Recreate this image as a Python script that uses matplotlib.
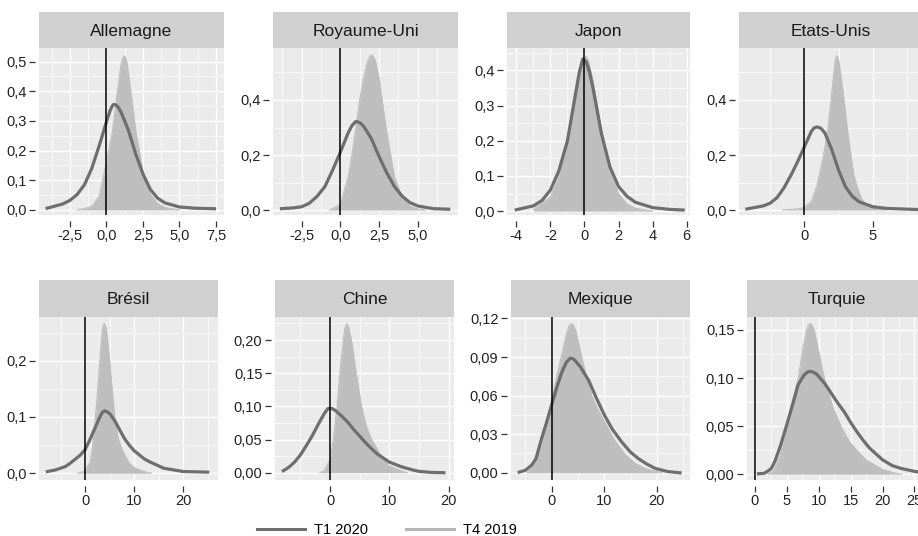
"""
Density of forecasts per country, T1 2020 vs T4 2019 (ggplot-like facets).
"""
import matplotlib
matplotlib.use("Agg")
import matplotlib.pyplot as plt
from matplotlib.lines import Line2D
import numpy as np

plt.rcParams["font.family"] = ["Liberation Sans", "DejaVu Sans"]

W, H = 918, 536

COUNTRIES = ["Allemagne", "Royaume-Uni", "Japon", "Etats-Unis",
             "Brésil", "Chine", "Mexique", "Turquie"]
SERIES = ["T1 2020", "T4 2019"]

# ---------------------------------------------------------------------
# Density curves
# ---------------------------------------------------------------------
ALLEMAGNE_T1_X = [-4.05, -3.0, -2.5, -2.0, -1.5, -1.0, -0.5, 0.0, 0.25, 0.4, 0.5, 0.65, 0.8,
                  1.0, 1.5, 2.0, 2.5, 3.0, 3.5, 4.0, 5.0, 6.0, 7.4]
ALLEMAGNE_T1_Y = [0.006, 0.02, 0.032, 0.052, 0.085, 0.14, 0.215, 0.296, 0.335, 0.35, 0.356, 0.354,
                  0.347, 0.33, 0.27, 0.19, 0.122, 0.07, 0.04, 0.024, 0.01, 0.006, 0.004]
ALLEMAGNE_T4_X = [-2.0, -1.5, -1.0, -0.5, 0.0, 0.4, 0.7, 1.0, 1.1, 1.2, 1.3, 1.4, 1.7,
                  2.0, 2.5, 3.0, 3.5, 4.0, 5.0]
ALLEMAGNE_T4_Y = [0.0, 0.005, 0.012, 0.045, 0.16, 0.26, 0.38, 0.49, 0.51, 0.52, 0.515, 0.50, 0.39,
                  0.27, 0.13, 0.055, 0.022, 0.008, 0.0]

ROYAUME_UNI_T1_X = [-3.8, -3.0, -2.5, -2.0, -1.5, -1.0, -0.5, 0.0, 0.5, 0.75, 1.0, 1.25,
                    1.5, 2.0, 2.5, 3.0, 3.5, 4.0, 4.5, 5.0, 6.0, 7.0]
ROYAUME_UNI_T1_Y = [0.005, 0.008, 0.012, 0.025, 0.05, 0.085, 0.145, 0.21, 0.28, 0.307, 0.322, 0.318,
                    0.305, 0.26, 0.195, 0.135, 0.085, 0.05, 0.027, 0.015, 0.005, 0.003]
ROYAUME_UNI_T4_X = [-0.7, 0.0, 0.5, 0.75, 1.0, 1.25, 1.5, 1.75, 1.9, 2.0, 2.1, 2.25, 2.5,
                    2.75, 3.0, 3.5, 4.0, 4.5, 5.0, 5.5]
ROYAUME_UNI_T4_Y = [0.0, 0.02, 0.12, 0.2, 0.3, 0.4, 0.48, 0.54, 0.558, 0.564, 0.56, 0.545, 0.48,
                    0.38, 0.28, 0.12, 0.045, 0.015, 0.004, 0.0]

JAPON_T1_X = [-4.0, -3.0, -2.5, -2.0, -1.5, -1.0, -0.5, -0.3, -0.1, 0.1, 0.3, 0.5,
              1.0, 1.5, 2.0, 2.5, 3.0, 4.0, 5.0, 5.8]
JAPON_T1_Y = [0.004, 0.015, 0.03, 0.06, 0.115, 0.2, 0.34, 0.395, 0.432, 0.425, 0.395, 0.35,
              0.22, 0.125, 0.07, 0.042, 0.025, 0.01, 0.005, 0.003]
JAPON_T4_X = [-3.0, -2.0, -1.5, -1.0, -0.5, -0.2, 0.0, 0.1, 0.25, 0.5, 1.0, 1.5, 2.0, 2.5, 3.0, 4.0]
JAPON_T4_Y = [0.005, 0.04, 0.1, 0.2, 0.34, 0.41, 0.435, 0.44, 0.425, 0.37, 0.23, 0.11, 0.05, 0.02,
              0.008, 0.0]

ETATS_UNIS_T1_X = [-4.2, -3.0, -2.5, -2.0, -1.5, -1.0, -0.5, 0.0, 0.5, 0.7, 0.9, 1.1, 1.25,
                   1.5, 2.0, 2.5, 3.0, 3.5, 4.0, 5.0, 6.0, 8.2]
ETATS_UNIS_T1_Y = [0.004, 0.015, 0.025, 0.045, 0.08, 0.125, 0.175, 0.23, 0.285, 0.298, 0.302, 0.3,
                   0.295, 0.28, 0.22, 0.145, 0.085, 0.05, 0.03, 0.012, 0.006, 0.002]
ETATS_UNIS_T4_X = [-1.6, -0.5, 0.0, 0.5, 0.9, 1.15, 1.4, 1.7, 1.95, 2.15, 2.25, 2.35, 2.45,
                   2.55, 2.75, 2.9, 3.15, 3.4, 3.6, 3.85, 4.2, 4.6, 5.0, 6.0]
ETATS_UNIS_T4_Y = [0.0, 0.004, 0.01, 0.03, 0.085, 0.14, 0.2, 0.29, 0.4, 0.5, 0.545, 0.562, 0.553,
                   0.53, 0.46, 0.4, 0.29, 0.2, 0.13, 0.085, 0.04, 0.015, 0.006, 0.0]

BRESIL_T1_X = [-7.7, -6.0, -4.0, -3.0, -2.0, -1.0, 0.0, 1.0, 2.0, 3.0, 3.5, 4.0, 4.5,
               5.0, 6.0, 7.0, 8.0, 9.0, 10.0, 12.0, 13.0, 16.0, 20.0, 25.0]
BRESIL_T1_Y = [0.003, 0.006, 0.012, 0.018, 0.025, 0.032, 0.042, 0.06, 0.08, 0.1, 0.108, 0.111, 0.109,
               0.106, 0.094, 0.078, 0.062, 0.05, 0.04, 0.026, 0.021, 0.009, 0.003, 0.002]
BRESIL_T4_X = [-1.5, 0.0, 1.0, 1.5, 2.1, 2.5, 3.0, 3.4, 3.65, 3.9, 4.15, 4.4, 5.0,
               5.5, 6.05, 6.8, 7.75, 9.0, 10.0, 12.0, 13.5]
BRESIL_T4_Y = [0.0, 0.004, 0.02, 0.045, 0.1, 0.14, 0.2, 0.245, 0.262, 0.266, 0.262, 0.25, 0.2,
               0.15, 0.1, 0.06, 0.038, 0.018, 0.01, 0.003, 0.0]

CHINE_T1_X = [-7.9, -7.0, -6.0, -5.0, -4.0, -3.0, -2.0, -1.0, -0.6, -0.3, 0.1, 0.5, 1.0, 2.0,
              3.0, 4.0, 5.0, 6.0, 7.0, 8.0, 9.0, 10.0, 12.0, 14.0, 15.0, 17.0, 19.2]
CHINE_T1_Y = [0.003, 0.008, 0.016, 0.027, 0.041, 0.056, 0.073, 0.089, 0.094, 0.097, 0.097, 0.096,
              0.093, 0.085, 0.076, 0.065, 0.055, 0.045, 0.036, 0.028, 0.022, 0.016, 0.009, 0.004,
              0.002, 0.0005, 0.0]
CHINE_T4_X = [-1.8, -1.0, 0.0, 0.6, 1.18, 1.63, 2.2, 2.5, 2.8, 3.1, 3.6, 4.4, 5.3,
              6.1, 7.0, 8.6, 10.0, 12.0, 13.0]
CHINE_T4_Y = [0.0, 0.003, 0.02, 0.055, 0.1, 0.15, 0.2, 0.218, 0.225, 0.22, 0.2, 0.15, 0.1,
              0.07, 0.05, 0.025, 0.01, 0.003, 0.0]

MEXIQUE_T1_X = [-6.2, -5.0, -3.8, -3.0, -1.9, -1.0, 0.0, 1.0, 1.9, 2.8, 3.5, 4.0, 4.5,
                5.5, 7.0, 8.5, 10.0, 11.5, 13.3, 15.0, 16.5, 18.0, 19.7, 22.0, 24.4]
MEXIQUE_T1_Y = [0.0005, 0.002, 0.006, 0.011, 0.027, 0.039, 0.053, 0.067, 0.078, 0.086, 0.089, 0.0888,
                0.087, 0.082, 0.072, 0.058, 0.045, 0.034, 0.024, 0.016, 0.011, 0.007, 0.0034,
                0.001, 0.0]
MEXIQUE_T4_X = [-4.8, -4.0, -3.0, -2.0, -1.0, 0.0, 1.0, 1.9, 2.8, 3.25, 3.7, 4.15, 4.6,
                5.7, 6.6, 7.6, 8.8, 10.0, 12.0, 14.0, 16.0, 18.0, 20.0, 21.0]
MEXIQUE_T4_Y = [0.0, 0.003, 0.01, 0.022, 0.037, 0.056, 0.076, 0.092, 0.108, 0.114, 0.116, 0.1145,
                0.11, 0.09, 0.075, 0.06, 0.049, 0.04, 0.025, 0.014, 0.007, 0.003, 0.001, 0.0]

TURQUIE_T1_X = [0.6, 1.5, 2.0, 2.6, 3.2, 4.0, 5.0, 6.0, 6.8, 7.7, 8.2, 8.7, 9.2, 9.7, 11.0,
                12.0, 13.0, 14.0, 15.0, 16.0, 17.0, 18.0, 19.0, 20.0, 21.5, 22.9, 25.0, 25.8]
TURQUIE_T1_Y = [0.0005, 0.001, 0.003, 0.006, 0.014, 0.029, 0.051, 0.074, 0.093, 0.103, 0.106, 0.107,
                0.106, 0.104, 0.094, 0.084, 0.074, 0.065, 0.054, 0.044, 0.035, 0.027, 0.021,
                0.015, 0.009, 0.006, 0.003, 0.002]
TURQUIE_T4_X = [2.1, 3.0, 4.0, 5.0, 6.0, 6.8, 7.55, 8.1, 8.4, 8.7, 9.0, 9.3, 9.9, 10.9,
                12.2, 13.5, 14.8, 16.1, 17.4, 18.7, 20.0, 22.0, 23.0]
TURQUIE_T4_Y = [0.0, 0.004, 0.02, 0.05, 0.078, 0.1, 0.131, 0.15, 0.155, 0.157, 0.155, 0.15, 0.131,
                0.1, 0.07, 0.05, 0.034, 0.024, 0.015, 0.01, 0.005, 0.001, 0.0]

CURVES = {
    "Allemagne": (ALLEMAGNE_T1_X, ALLEMAGNE_T1_Y, ALLEMAGNE_T4_X, ALLEMAGNE_T4_Y),
    "Royaume-Uni": (ROYAUME_UNI_T1_X, ROYAUME_UNI_T1_Y, ROYAUME_UNI_T4_X, ROYAUME_UNI_T4_Y),
    "Japon": (JAPON_T1_X, JAPON_T1_Y, JAPON_T4_X, JAPON_T4_Y),
    "Etats-Unis": (ETATS_UNIS_T1_X, ETATS_UNIS_T1_Y, ETATS_UNIS_T4_X, ETATS_UNIS_T4_Y),
    "Brésil": (BRESIL_T1_X, BRESIL_T1_Y, BRESIL_T4_X, BRESIL_T4_Y),
    "Chine": (CHINE_T1_X, CHINE_T1_Y, CHINE_T4_X, CHINE_T4_Y),
    "Mexique": (MEXIQUE_T1_X, MEXIQUE_T1_Y, MEXIQUE_T4_X, MEXIQUE_T4_Y),
    "Turquie": (TURQUIE_T1_X, TURQUIE_T1_Y, TURQUIE_T4_X, TURQUIE_T4_Y),
}

# tick values per panel (same order as COUNTRIES)
X_TICKS = [[-2.5, 0, 2.5, 5, 7.5], [-2.5, 0, 2.5, 5], [-4, -2, 0, 2, 4, 6], [0, 5],
           [0, 10, 20], [0, 10, 20], [0, 10, 20], [0, 5, 10, 15, 20, 25]]
Y_TICKS = [[0, 0.1, 0.2, 0.3, 0.4, 0.5], [0, 0.2, 0.4], [0, 0.1, 0.2, 0.3, 0.4], [0, 0.2, 0.4],
           [0, 0.1, 0.2], [0, 0.05, 0.1, 0.15, 0.2], [0, 0.03, 0.06, 0.09, 0.12],
           [0, 0.05, 0.1, 0.15]]
X_DEC = [1, 1, 0, 0, 0, 0, 0, 0]
Y_DEC = [1, 1, 1, 1, 1, 2, 2, 2]

# ---------------------------------------------------------------------
# Layout (pixels) and limits
# ---------------------------------------------------------------------
BOXES = [(39, 48, 224, 215), (273, 48, 458, 215), (507, 48, 690, 215), (739, 48, 922, 215),
         (39, 317, 218, 480), (275, 317, 454, 480), (511, 317, 690, 480), (747, 317, 926, 480)]
STRIP_TOP = {48: 12, 317: 280}
XLIMS = [(-4.61, 8.05), (-4.35, 7.6), (-4.55, 6.2), (-4.78, 8.6),
         (-9.4, 27.1), (-9.3, 20.9), (-7.75, 26.3), (-1.2, 26.8)]
YLIMS = [(-0.017, 0.546), (-0.018, 0.589), (-0.011, 0.4635), (-0.018, 0.589),
         (-0.012, 0.2776), (-0.011, 0.2348), (-0.0056, 0.1211), (-0.006, 0.1635)]

PANEL_BG = "#ebebeb"
STRIP_BG = "#d0d0d0"
DARK = "#6e6e6e"
LIGHT = "#b4b4b4"
FILL = "#bebebe"


def fmt(v, dec):
    return f"{v:.{dec}f}".replace(".", ",")


def minor_breaks(major, lim):
    step = major[1] - major[0]
    ext = [major[0] - step] + list(major) + [major[-1] + step]
    mids = [(a + b) / 2 for a, b in zip(ext[:-1], ext[1:])]
    return [m for m in mids if lim[0] <= m <= lim[1]]


fig = plt.figure(figsize=(W / 100, H / 100), dpi=100)

for i, name in enumerate(COUNTRIES):
    l, t, r, b = BOXES[i]
    ax = fig.add_axes([l / W, 1 - b / H, (r - l) / W, (b - t) / H])
    ax.set_facecolor(PANEL_BG)
    t1x, t1y, t4x, t4y = CURVES[name]

    ax.fill_between(t4x, t4y, color=FILL, lw=0, zorder=2)
    ax.plot(t4x, t4y, color=FILL, lw=0.8, zorder=2, solid_joinstyle="round")
    ax.plot(t1x, t1y, color=DARK, lw=2.3, zorder=3, solid_joinstyle="round")
    ax.axvline(0, color="black", lw=1.1, zorder=4)

    ax.set_xlim(*XLIMS[i])
    ax.set_ylim(*YLIMS[i])
    ax.set_xticks(X_TICKS[i])
    ax.set_xticklabels([fmt(v, X_DEC[i]) for v in X_TICKS[i]])
    ax.set_yticks(Y_TICKS[i])
    ax.set_yticklabels([fmt(v, Y_DEC[i]) for v in Y_TICKS[i]])
    ax.set_xticks(minor_breaks(X_TICKS[i], XLIMS[i]), minor=True)
    ax.set_yticks(minor_breaks(Y_TICKS[i], YLIMS[i]), minor=True)

    ax.set_axisbelow(True)
    ax.grid(which="major", color="white", lw=1.0)
    ax.grid(which="minor", color="white", lw=0.5)
    for s in ax.spines.values():
        s.set_visible(False)
    ax.spines["bottom"].set_position(("outward", 4))
    ax.spines["left"].set_position(("outward", 3))
    ax.tick_params(which="major", length=4, width=0.9, color="#333333",
                   labelsize=10.5, labelcolor="#222222", pad=2)
    ax.tick_params(which="minor", length=0)

    # facet strip
    st = STRIP_TOP[t]
    sax = fig.add_axes([l / W, 1 - t / H, (r - l) / W, (t - st) / H])
    sax.set_facecolor(STRIP_BG)
    sax.set_xticks([])
    sax.set_yticks([])
    for s in sax.spines.values():
        s.set_visible(False)
    sax.text(0.5, 0.47, name, ha="center", va="center", fontsize=12.5, color="#1a1a1a",
             transform=sax.transAxes)

handles = [Line2D([], [], color=DARK, lw=2.2), Line2D([], [], color=LIGHT, lw=2.2)]
fig.legend(handles, SERIES, loc="center", bbox_to_anchor=(387 / W, 1 - 530 / H),
           ncol=2, frameon=False, fontsize=10.5, handlelength=3.3, handletextpad=0.6,
           columnspacing=2.6, borderpad=0, borderaxespad=0)

fig.savefig("out.png", dpi=100, facecolor="white")
